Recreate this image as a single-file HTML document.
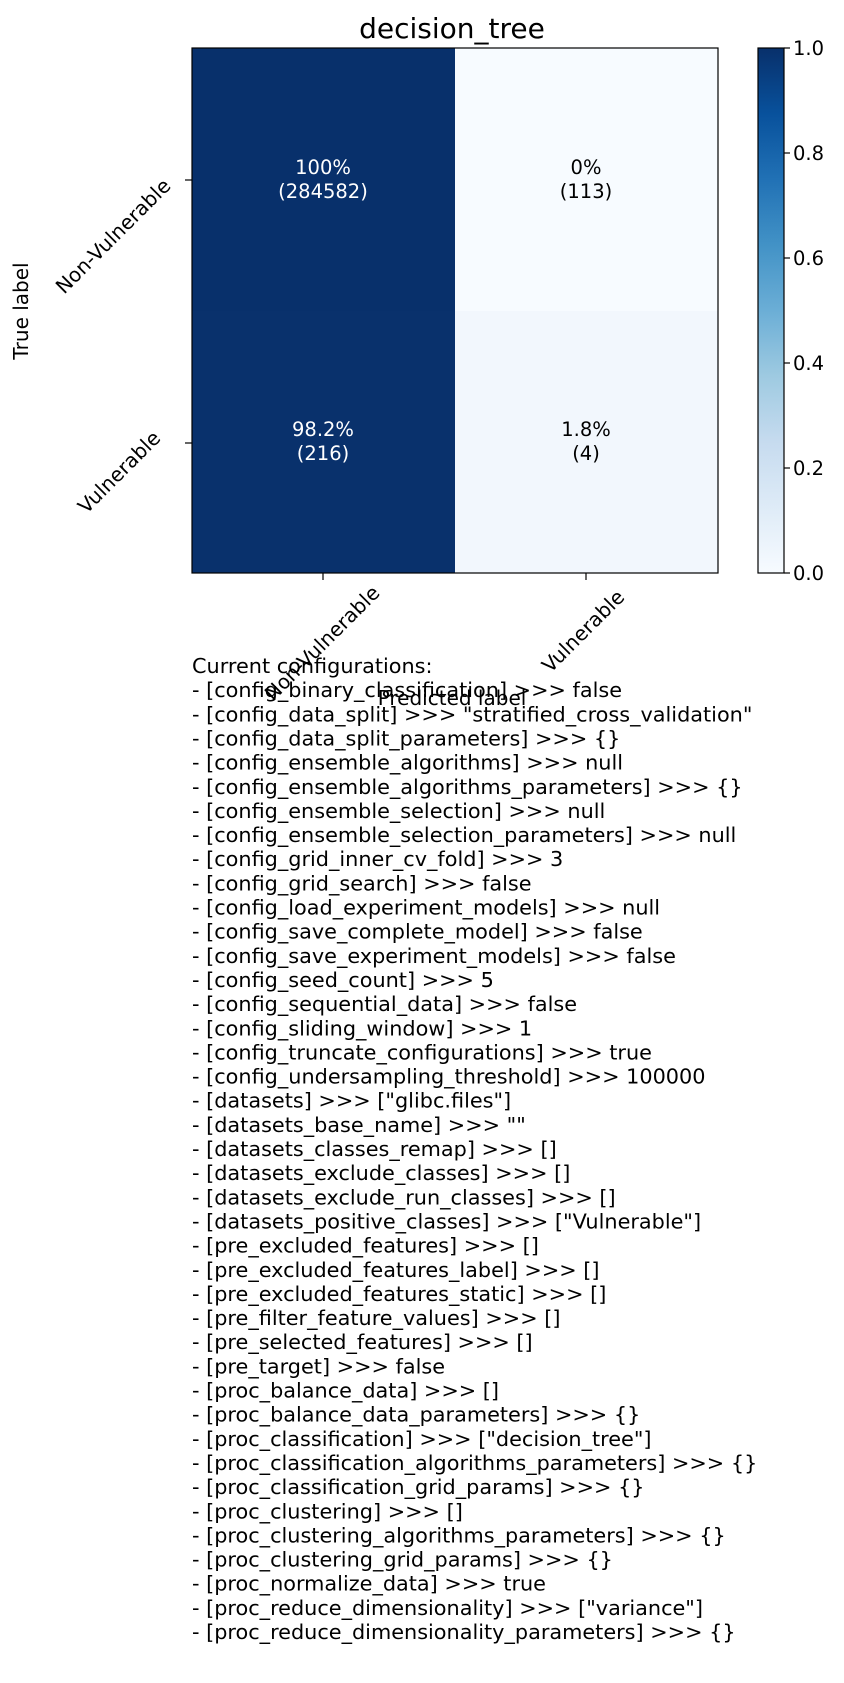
<!DOCTYPE html>
<html><head><meta charset="utf-8"><style>
html,body{margin:0;padding:0;background:#fff;}
svg{display:block;font-family:"DejaVu Sans","Liberation Sans",sans-serif;}
</style></head><body>
<svg width="844" height="1683" viewBox="0 0 844 1683" xmlns="http://www.w3.org/2000/svg">
<defs>
<linearGradient id="blues" x1="0" y1="1" x2="0" y2="0">
<stop offset="0" stop-color="#f7fbff"/>
<stop offset="0.125" stop-color="#deebf7"/>
<stop offset="0.25" stop-color="#c6dbef"/>
<stop offset="0.375" stop-color="#9ecae1"/>
<stop offset="0.5" stop-color="#6baed6"/>
<stop offset="0.625" stop-color="#4292c6"/>
<stop offset="0.75" stop-color="#2171b5"/>
<stop offset="0.875" stop-color="#08519c"/>
<stop offset="1" stop-color="#08306b"/>
</linearGradient>
</defs>
<text x="452" y="38" font-size="28" text-anchor="middle">decision_tree</text>
<rect x="192" y="48" width="263" height="263" fill="#08306b"/>
<rect x="455" y="48" width="263" height="263" fill="#f7fbff"/>
<rect x="192" y="311" width="263" height="262" fill="#09316c"/>
<rect x="455" y="311" width="263" height="262" fill="#f2f7fd"/>
<rect x="192" y="48" width="526" height="525" fill="none" stroke="#000" stroke-width="1.2"/>
<g font-size="19.5" text-anchor="middle">
<text x="323" y="174" fill="#fff">100%</text><text x="323" y="198" fill="#fff">(284582)</text>
<text x="586" y="174">0%</text><text x="586" y="198">(113)</text>
<text x="323" y="436" fill="#fff">98.2%</text><text x="323" y="460" fill="#fff">(216)</text>
<text x="586" y="436">1.8%</text><text x="586" y="460">(4)</text>
</g>
<g stroke="#000" stroke-width="1.2">
<line x1="185" y1="180" x2="192" y2="180"/><line x1="185" y1="443" x2="192" y2="443"/>
<line x1="323" y1="573" x2="323" y2="580"/><line x1="586" y1="573" x2="586" y2="580"/>
</g>
<g font-size="20">
<text transform="translate(118,241) rotate(-45)" text-anchor="middle">Non-Vulnerable</text>
<text transform="translate(124,477) rotate(-45)" text-anchor="middle">Vulnerable</text>
<text transform="translate(327,648) rotate(-45)" text-anchor="middle">Non-Vulnerable</text>
<text transform="translate(588,636) rotate(-45)" text-anchor="middle">Vulnerable</text>
<text transform="translate(28,311) rotate(-90)" text-anchor="middle">True label</text>
<text x="452" y="705" text-anchor="middle">Predicted label</text>
</g>
<rect x="758" y="48" width="26" height="525" fill="url(#blues)" stroke="#000" stroke-width="1.2"/>
<g stroke="#000" stroke-width="1.2">
<line x1="784" y1="48" x2="790" y2="48"/><line x1="784" y1="153" x2="790" y2="153"/>
<line x1="784" y1="258" x2="790" y2="258"/><line x1="784" y1="363" x2="790" y2="363"/>
<line x1="784" y1="468" x2="790" y2="468"/><line x1="784" y1="573" x2="790" y2="573"/>
</g>
<g font-size="19.5">
<text x="793" y="55">1.0</text><text x="793" y="160">0.8</text><text x="793" y="265">0.6</text>
<text x="793" y="370">0.4</text><text x="793" y="475">0.2</text><text x="793" y="580">0.0</text>
</g>
<text font-size="20.8" x="192" y="672">
<tspan x="192" y="673">Current configurations:</tspan>
<tspan x="192" dy="24.15">- [config_binary_classification] &gt;&gt;&gt; false</tspan>
<tspan x="192" dy="24.15">- [config_data_split] &gt;&gt;&gt; "stratified_cross_validation"</tspan>
<tspan x="192" dy="24.15">- [config_data_split_parameters] &gt;&gt;&gt; {}</tspan>
<tspan x="192" dy="24.15">- [config_ensemble_algorithms] &gt;&gt;&gt; null</tspan>
<tspan x="192" dy="24.15">- [config_ensemble_algorithms_parameters] &gt;&gt;&gt; {}</tspan>
<tspan x="192" dy="24.15">- [config_ensemble_selection] &gt;&gt;&gt; null</tspan>
<tspan x="192" dy="24.15">- [config_ensemble_selection_parameters] &gt;&gt;&gt; null</tspan>
<tspan x="192" dy="24.15">- [config_grid_inner_cv_fold] &gt;&gt;&gt; 3</tspan>
<tspan x="192" dy="24.15">- [config_grid_search] &gt;&gt;&gt; false</tspan>
<tspan x="192" dy="24.15">- [config_load_experiment_models] &gt;&gt;&gt; null</tspan>
<tspan x="192" dy="24.15">- [config_save_complete_model] &gt;&gt;&gt; false</tspan>
<tspan x="192" dy="24.15">- [config_save_experiment_models] &gt;&gt;&gt; false</tspan>
<tspan x="192" dy="24.15">- [config_seed_count] &gt;&gt;&gt; 5</tspan>
<tspan x="192" dy="24.15">- [config_sequential_data] &gt;&gt;&gt; false</tspan>
<tspan x="192" dy="24.15">- [config_sliding_window] &gt;&gt;&gt; 1</tspan>
<tspan x="192" dy="24.15">- [config_truncate_configurations] &gt;&gt;&gt; true</tspan>
<tspan x="192" dy="24.15">- [config_undersampling_threshold] &gt;&gt;&gt; 100000</tspan>
<tspan x="192" dy="24.15">- [datasets] &gt;&gt;&gt; ["glibc.files"]</tspan>
<tspan x="192" dy="24.15">- [datasets_base_name] &gt;&gt;&gt; ""</tspan>
<tspan x="192" dy="24.15">- [datasets_classes_remap] &gt;&gt;&gt; []</tspan>
<tspan x="192" dy="24.15">- [datasets_exclude_classes] &gt;&gt;&gt; []</tspan>
<tspan x="192" dy="24.15">- [datasets_exclude_run_classes] &gt;&gt;&gt; []</tspan>
<tspan x="192" dy="24.15">- [datasets_positive_classes] &gt;&gt;&gt; ["Vulnerable"]</tspan>
<tspan x="192" dy="24.15">- [pre_excluded_features] &gt;&gt;&gt; []</tspan>
<tspan x="192" dy="24.15">- [pre_excluded_features_label] &gt;&gt;&gt; []</tspan>
<tspan x="192" dy="24.15">- [pre_excluded_features_static] &gt;&gt;&gt; []</tspan>
<tspan x="192" dy="24.15">- [pre_filter_feature_values] &gt;&gt;&gt; []</tspan>
<tspan x="192" dy="24.15">- [pre_selected_features] &gt;&gt;&gt; []</tspan>
<tspan x="192" dy="24.15">- [pre_target] &gt;&gt;&gt; false</tspan>
<tspan x="192" dy="24.15">- [proc_balance_data] &gt;&gt;&gt; []</tspan>
<tspan x="192" dy="24.15">- [proc_balance_data_parameters] &gt;&gt;&gt; {}</tspan>
<tspan x="192" dy="24.15">- [proc_classification] &gt;&gt;&gt; ["decision_tree"]</tspan>
<tspan x="192" dy="24.15">- [proc_classification_algorithms_parameters] &gt;&gt;&gt; {}</tspan>
<tspan x="192" dy="24.15">- [proc_classification_grid_params] &gt;&gt;&gt; {}</tspan>
<tspan x="192" dy="24.15">- [proc_clustering] &gt;&gt;&gt; []</tspan>
<tspan x="192" dy="24.15">- [proc_clustering_algorithms_parameters] &gt;&gt;&gt; {}</tspan>
<tspan x="192" dy="24.15">- [proc_clustering_grid_params] &gt;&gt;&gt; {}</tspan>
<tspan x="192" dy="24.15">- [proc_normalize_data] &gt;&gt;&gt; true</tspan>
<tspan x="192" dy="24.15">- [proc_reduce_dimensionality] &gt;&gt;&gt; ["variance"]</tspan>
<tspan x="192" dy="24.15">- [proc_reduce_dimensionality_parameters] &gt;&gt;&gt; {}</tspan>
</text>
</svg>
</body></html>
